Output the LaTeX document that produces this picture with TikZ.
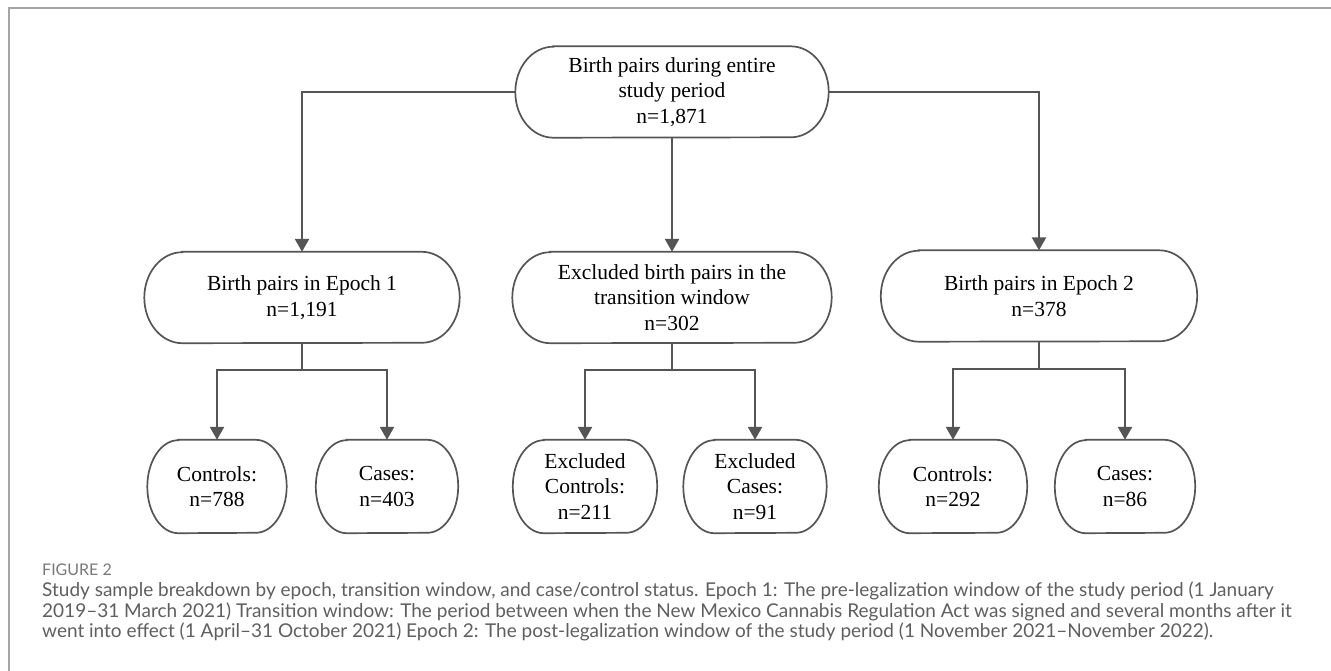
\documentclass[tikz,border=0pt]{standalone}
\usepackage{fontspec}
\setmainfont{Liberation Serif}
\newfontfamily\capfont{Lato}
\usetikzlibrary{arrows.meta}
\definecolor{linegray}{RGB}{85,85,85}
\definecolor{framegray}{RGB}{165,165,165}
\definecolor{capgray}{RGB}{95,95,95}
\definecolor{figgray}{RGB}{120,120,120}
\newcommand{\ovalframe}[3]{%
  \draw[boxline] ([xshift=#2]#1.north west) -- ([xshift=-#2]#1.north east)
    arc[start angle=90, end angle=-90, x radius=#2, y radius=#3]
    -- ([xshift=#2]#1.south west)
    arc[start angle=270, end angle=90, x radius=#2, y radius=#3] -- cycle;}
\begin{document}
\begin{tikzpicture}[x=1pt,y=-1pt,
  box/.style={align=center, font=\fontsize{21.5}{25.5}\selectfont, inner sep=0pt, text=black},
  widebox/.style={box, minimum width=315pt, minimum height=91pt},
  smallbox/.style={box, minimum width=142pt, minimum height=93pt},
  boxline/.style={draw=linegray, line width=1.7pt},
  conn/.style={draw=linegray, line width=2.5pt},
  arr/.style={conn, -{Triangle[width=14pt,length=13pt]}},
  framestyle/.style={draw=framegray, line width=1.8pt},
  captext/.style={anchor=base west, inner sep=0pt, text=capgray,
    font=\capfont\fontsize{19}{20.5}\selectfont}]
\useasboundingbox (0,0) rectangle (1331,671);
\fill[white] (0,0) rectangle (1331,671);
% frame
\coordinate (f1) at (9,671);
\coordinate (f2) at (9,8);
\coordinate (f3) at (1331,8);
\draw[framestyle] (f1) -- (f2) -- (f3);
% level 0
\node[widebox, minimum width=313pt] (top) at (672,92) {Birth pairs during entire\\study period\\n=1,871};
% level 1
\node[widebox] (e1) at (302,297.5) {Birth pairs in Epoch 1\\n=1,191};
\node[widebox, minimum width=319pt] (tw) at (672,297.5) {Excluded birth pairs in the\\transition window\\n=302};
\node[widebox, minimum width=316pt] (e2) at (1039,296) {Birth pairs in Epoch 2\\n=378};
% level 2
\node[smallbox, minimum width=139pt] (c1) at (217,486.5) {Controls:\\n=788};
\node[smallbox] (k1) at (387,486.5) {Cases:\\n=403};
\node[smallbox, minimum width=144pt] (c2) at (585,486.5) {Excluded\\Controls:\\n=211};
\node[smallbox, minimum width=143pt] (k2) at (755,486.5) {Excluded\\Cases:\\n=91};
\node[smallbox, minimum width=148pt] (c3) at (953,486.5) {Controls:\\n=292};
\node[smallbox, minimum width=140pt] (k3) at (1125,486.5) {Cases:\\n=86};
% borders
\ovalframe{top}{38pt}{45.5pt}
\ovalframe{e1}{38pt}{45.5pt}
\ovalframe{tw}{38pt}{45.5pt}
\ovalframe{e2}{38pt}{45.5pt}
\ovalframe{c1}{31pt}{46.5pt}
\ovalframe{k1}{31pt}{46.5pt}
\ovalframe{c2}{31pt}{46.5pt}
\ovalframe{k2}{31pt}{46.5pt}
\ovalframe{c3}{31pt}{46.5pt}
\ovalframe{k3}{31pt}{46.5pt}
% connectors level 0 -> 1
\draw[arr] (top.west) -| (e1.north);
\draw[arr] (top.east) -| (e2.north);
\draw[arr] (top.south) -- (tw.north);
% junctions
\coordinate (j1) at (302,370);
\coordinate (j2) at (672,370);
\coordinate (j3) at (1039,369);
\draw[conn] (e1.south) -- (j1);
\draw[conn] (tw.south) -- (j2);
\draw[conn] (e2.south) -- (j3);
\draw[arr] (j1) -| (c1.north);
\draw[arr] (j1) -| (k1.north);
\draw[arr] (j2) -| (c2.north);
\draw[arr] (j2) -| (k2.north);
\draw[arr] (j3) -| (c3.north);
\draw[arr] (j3) -| (k3.north);
% caption
\node[anchor=base west, inner sep=0pt, text=figgray, font=\capfont\fontsize{16}{18}\selectfont] (figlabel) at (42,575) {FIGURE 2};
\node[captext] (cap1) at (42,596.5) {Study sample breakdown by epoch, transition window, and case/control status. Epoch 1: The pre-legalization window of the study period (1 January};
\node[captext] (cap2) at (42,617) {2019–31 March 2021) Transition window: The period between when the New Mexico Cannabis Regulation Act was signed and several months after it};
\node[captext] (cap3) at (42,637.5) {went into effect (1 April–31 October 2021) Epoch 2: The post-legalization window of the study period (1 November 2021–November 2022).};
\end{tikzpicture}
\end{document}
